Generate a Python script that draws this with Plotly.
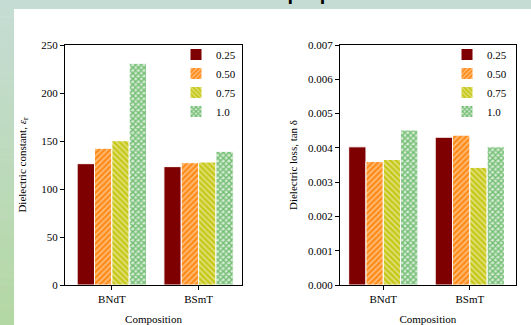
import plotly.graph_objects as go

# ---- data ----
compositions = ["BNdT", "BSmT"]
series_labels = ["0.25", "0.50", "0.75", "1.0"]
eps_025 = [126.4, 123.3]
eps_050 = [142.4, 127.4]
eps_075 = [150.3, 128.1]
eps_100 = [230.9, 139.2]
tan_025 = [0.00403, 0.00431]
tan_050 = [0.00360, 0.00437]
tan_075 = [0.00366, 0.00343]
tan_100 = [0.00452, 0.00403]

eps_series = [eps_025, eps_050, eps_075, eps_100]
tan_series = [tan_025, tan_050, tan_075, tan_100]

W, H = 531, 325
SERIF = "'Liberation Serif', 'Times New Roman', Times, serif"

styles = [
    dict(color="#7f0000", pattern=dict(shape="")),
    dict(color="#ff8c1a", pattern=dict(shape="/", fgcolor="white", size=4, solidity=0.35, fillmode="overlay")),
    dict(color="#c8c81a", pattern=dict(shape="\\", fgcolor="white", size=4, solidity=0.35, fillmode="overlay")),
    dict(color="#d4ecd4", pattern=dict(shape="x", fgcolor="#118c11", size=4, solidity=0.6, fillmode="overlay")),
]

fig = go.Figure()
for i, lab in enumerate(series_labels):
    st = styles[i]
    fig.add_trace(go.Bar(
        x=compositions, y=eps_series[i], name=lab, xaxis="x", yaxis="y",
        legend="legend",
        marker=dict(color=st["color"], pattern=st["pattern"], line=dict(color="white", width=1)),
    ))
for i, lab in enumerate(series_labels):
    st = styles[i]
    fig.add_trace(go.Bar(
        x=compositions, y=tan_series[i], name=lab, xaxis="x2", yaxis="y2",
        legend="legend2",
        marker=dict(color=st["color"], pattern=st["pattern"], line=dict(color="white", width=1)),
    ))

def px_x(p):
    return p / W

def px_y(p):
    return 1 - p / H

axis_common = dict(
    showline=True, linecolor="black", linewidth=1, mirror=True,
    ticks="outside", ticklen=4, tickcolor="black", tickwidth=1,
    showgrid=False, zeroline=False, automargin=False,
    tickfont=dict(family=SERIF, size=11, color="black"),
)

shapes = []
# top strip
shapes.append(dict(type="rect", xref="paper", yref="paper", x0=0, x1=1, y0=px_y(9), y1=1,
                   fillcolor="#c5dcd4", line=dict(width=0), layer="below"))
# left strip gradient
n = 40
c0 = (0xc5, 0xdc, 0xd4)
c1 = (0xb4, 0xd8, 0xa4)
for k in range(n):
    t = k / (n - 1)
    c = tuple(round(c0[j] + (c1[j] - c0[j]) * t) for j in range(3))
    shapes.append(dict(type="rect", xref="paper", yref="paper", x0=0, x1=px_x(14),
                       y0=px_y(H * (k + 1) / n + 0.5), y1=px_y(H * k / n),
                       fillcolor="rgb(%d,%d,%d)" % c, line=dict(width=0), layer="below"))

fig.update_layout(
    width=W, height=H,
    margin=dict(l=0, r=0, t=0, b=0, autoexpand=False),
    paper_bgcolor="white", plot_bgcolor="white",
    barmode="group", bargap=0.2, bargroupgap=0,
    font=dict(family=SERIF, size=11, color="black"),
    shapes=shapes,
    xaxis=dict(domain=[px_x(65), px_x(242)], anchor="y", range=[-0.54, 1.50],
               title=dict(text="Composition", font=dict(family=SERIF, size=11), standoff=21),
               **axis_common),
    yaxis=dict(domain=[px_y(285), px_y(45)], anchor="x", range=[0, 250], dtick=50,
               title=dict(text="Dielectric constant, <i>ε</i><sub>r</sub>", font=dict(family=SERIF, size=11), standoff=12),
               **axis_common),
    xaxis2=dict(domain=[px_x(340), px_x(515.7)], anchor="y2", range=[-0.50, 1.53],
                title=dict(text="Composition", font=dict(family=SERIF, size=11), standoff=21),
                **axis_common),
    yaxis2=dict(domain=[px_y(285), px_y(45)], anchor="x2", range=[0, 0.007], dtick=0.001, tickformat=".3f",
                title=dict(text="Dielectric loss, tan δ", font=dict(family=SERIF, size=11), standoff=8),
                **axis_common),
    legend=dict(x=px_x(176), y=px_y(40), xanchor="left", yanchor="top",
                bgcolor="rgba(0,0,0,0)", font=dict(family=SERIF, size=11),
                tracegroupgap=0, itemwidth=30),
    legend2=dict(x=px_x(447), y=px_y(40), xanchor="left", yanchor="top",
                 bgcolor="rgba(0,0,0,0)", font=dict(family=SERIF, size=11),
                 tracegroupgap=0, itemwidth=30),
    annotations=[dict(text="<b>Dielectric properties</b>", xref="paper", yref="paper",
                      x=px_x(288), y=px_y(6), xanchor="center", yanchor="bottom",
                      showarrow=False, font=dict(family="'Liberation Sans', Arial, sans-serif", size=20, color="black"))],
)

fig.write_html("out.html", config={"displayModeBar": False},
               post_script="document.body.style.margin='0';")
